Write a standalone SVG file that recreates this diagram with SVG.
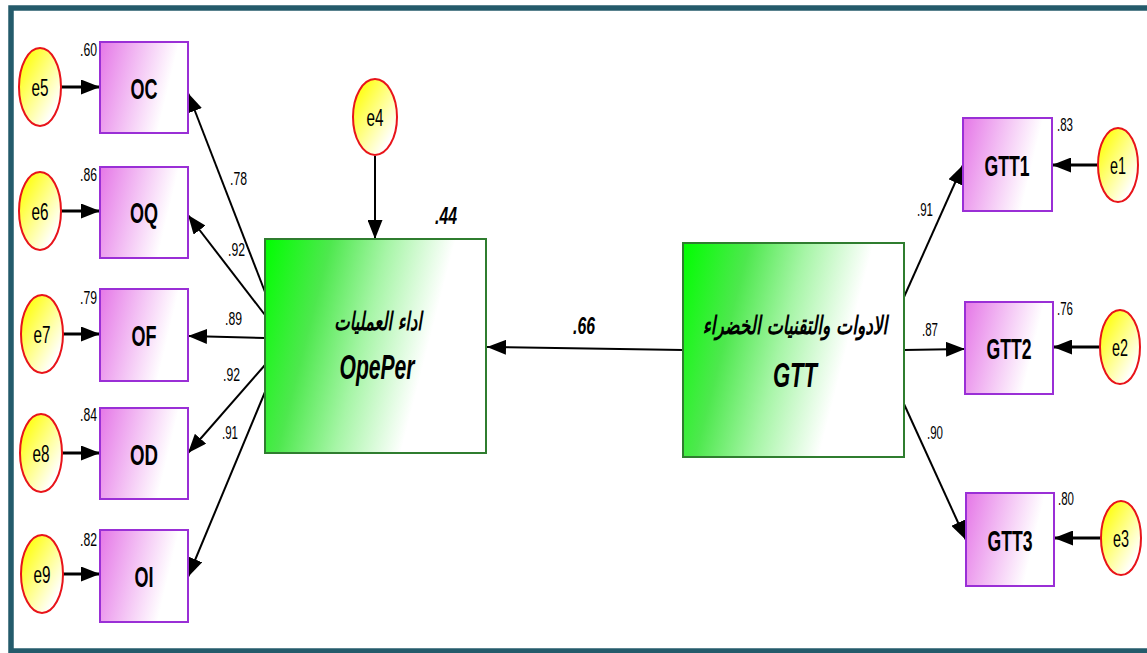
<svg xmlns="http://www.w3.org/2000/svg" width="1147" height="653" viewBox="0 0 1147 653">
<style>
.frame{fill:#fff;stroke:#245b6b;stroke-width:5.5}
.obs{fill:url(#gPurple);stroke:#9a2fd6;stroke-width:2}
.err{fill:url(#gYellow);stroke:#e8141a;stroke-width:2}
.lat{stroke:#2f7d2f;stroke-width:2}
.obsT{font-family:"Liberation Sans",Arial,sans-serif;font-weight:bold;font-size:30px;text-anchor:middle;fill:#000}
.errT{font-family:"Liberation Sans",Arial,sans-serif;font-size:24px;text-anchor:middle;fill:#000}
.num{font-family:"Liberation Sans",Arial,sans-serif;font-size:18px;fill:#000}
.bnum{font-family:"Liberation Sans",Arial,sans-serif;font-size:24px;font-weight:bold;font-style:italic;fill:#000}
.latT{font-family:"Liberation Sans",Arial,sans-serif;font-size:35px;font-weight:bold;font-style:italic;text-anchor:middle;fill:#000}
.arT{font-family:"DejaVu Sans","Noto Sans",sans-serif;font-size:25px;font-weight:bold;font-style:italic;text-anchor:middle;fill:#000}
.path{stroke:#000;stroke-width:2;fill:none;marker-end:url(#ah)}
.earr{stroke:#000;stroke-width:3;fill:none;marker-end:url(#ah)}
</style>
<defs>
<linearGradient id="gPurple" x1="0" y1="0" x2="1" y2="0.25">
<stop offset="0" stop-color="#e577e7"/>
<stop offset="0.85" stop-color="#ffffff"/>
</linearGradient>
<linearGradient id="gYellow" x1="0.1" y1="0.1" x2="0.9" y2="0.9">
<stop offset="0.1" stop-color="#ffff22"/>
<stop offset="0.9" stop-color="#ffffff"/>
</linearGradient>
<linearGradient id="gGreen1" gradientUnits="userSpaceOnUse" x1="265" y1="239" x2="444" y2="285">
<stop offset="0" stop-color="#00ff00"/>
<stop offset="0.35" stop-color="#4ee84e"/>
<stop offset="0.65" stop-color="#a6f5a6"/>
<stop offset="1" stop-color="#ffffff"/>
</linearGradient>
<linearGradient id="gGreen2" gradientUnits="userSpaceOnUse" x1="683" y1="243" x2="862" y2="289">
<stop offset="0" stop-color="#00ff00"/>
<stop offset="0.35" stop-color="#4ee84e"/>
<stop offset="0.65" stop-color="#a6f5a6"/>
<stop offset="1" stop-color="#ffffff"/>
</linearGradient>
<marker id="ah" markerUnits="userSpaceOnUse" markerWidth="19" markerHeight="15" refX="19" refY="7.5" orient="auto">
<path d="M0,0 L19,7.5 L0,15 z" fill="#000"/>
</marker>
</defs>

<rect class="frame" x="11" y="8" width="1150" height="643"/>

<g id="connectors">
<path class="path" d="M265,292 L188,93"/>
<path class="path" d="M265,315 L188,215"/>
<path class="path" d="M265,338 L188,336"/>
<path class="path" d="M265,365 L188,453"/>
<path class="path" d="M265,392 L188,577"/>
<path class="path" d="M375,156 L375,239"/>
<path class="path" d="M683,350 L487,347"/>
<path class="path" d="M904,297 L963,165"/>
<path class="path" d="M904,350 L965,349"/>
<path class="path" d="M904,404 L966,540"/>
<path class="earr" d="M61,87 L100,87"/>
<path class="earr" d="M61,211 L100,211"/>
<path class="earr" d="M62,334 L100,334"/>
<path class="earr" d="M61,453 L100,453"/>
<path class="earr" d="M62,574 L100,574"/>
<path class="earr" d="M1098,165 L1052,165"/>
<path class="earr" d="M1100,347 L1053,347"/>
<path class="earr" d="M1101,538 L1054,538"/>
<text class="num" x="230" y="185" textLength="17" lengthAdjust="spacingAndGlyphs">.78</text>
<text class="num" x="228" y="256" textLength="17" lengthAdjust="spacingAndGlyphs">.92</text>
<text class="num" x="225" y="325" textLength="17" lengthAdjust="spacingAndGlyphs">.89</text>
<text class="num" x="223" y="381" textLength="17" lengthAdjust="spacingAndGlyphs">.92</text>
<text class="num" x="222" y="439" textLength="16" lengthAdjust="spacingAndGlyphs">.91</text>
<text class="num" x="917" y="216" textLength="16" lengthAdjust="spacingAndGlyphs">.91</text>
<text class="num" x="922" y="336" textLength="16" lengthAdjust="spacingAndGlyphs">.87</text>
<text class="num" x="927" y="439" textLength="16" lengthAdjust="spacingAndGlyphs">.90</text>
<text class="bnum" x="573" y="334" textLength="22" lengthAdjust="spacingAndGlyphs">.66</text>
</g>

<g id="OC"><rect class="obs" x="100" y="42" width="88" height="91"/><text class="obsT" x="144" y="99" textLength="27" lengthAdjust="spacingAndGlyphs">OC</text><text class="num" x="97" y="56" text-anchor="end" textLength="17" lengthAdjust="spacingAndGlyphs">.60</text></g>
<g id="OQ"><rect class="obs" x="100" y="167" width="88" height="91"/><text class="obsT" x="144" y="223" textLength="28" lengthAdjust="spacingAndGlyphs">OQ</text><text class="num" x="97" y="181" text-anchor="end" textLength="17" lengthAdjust="spacingAndGlyphs">.86</text></g>
<g id="OF"><rect class="obs" x="100" y="289" width="88" height="92"/><text class="obsT" x="144" y="346" textLength="25" lengthAdjust="spacingAndGlyphs">OF</text><text class="num" x="97" y="304" text-anchor="end" textLength="17" lengthAdjust="spacingAndGlyphs">.79</text></g>
<g id="OD"><rect class="obs" x="100" y="408" width="88" height="91"/><text class="obsT" x="144" y="465" textLength="28" lengthAdjust="spacingAndGlyphs">OD</text><text class="num" x="97" y="421" text-anchor="end" textLength="17" lengthAdjust="spacingAndGlyphs">.84</text></g>
<g id="OI"><rect class="obs" x="100" y="530" width="88" height="92"/><text class="obsT" x="144" y="587" textLength="19" lengthAdjust="spacingAndGlyphs">OI</text><text class="num" x="97" y="546" text-anchor="end" textLength="17" lengthAdjust="spacingAndGlyphs">.82</text></g>

<g id="e5"><ellipse class="err" cx="40" cy="87" rx="21" ry="39"/><text class="errT" x="40" y="96" textLength="17" lengthAdjust="spacingAndGlyphs">e5</text></g>
<g id="e6"><ellipse class="err" cx="40" cy="211" rx="21" ry="39"/><text class="errT" x="40" y="220" textLength="17" lengthAdjust="spacingAndGlyphs">e6</text></g>
<g id="e7"><ellipse class="err" cx="42" cy="334" rx="21" ry="39"/><text class="errT" x="42" y="343" textLength="17" lengthAdjust="spacingAndGlyphs">e7</text></g>
<g id="e8"><ellipse class="err" cx="41" cy="453" rx="21" ry="39"/><text class="errT" x="41" y="462" textLength="17" lengthAdjust="spacingAndGlyphs">e8</text></g>
<g id="e9"><ellipse class="err" cx="42" cy="574" rx="21" ry="39"/><text class="errT" x="42" y="583" textLength="17" lengthAdjust="spacingAndGlyphs">e9</text></g>

<g id="e4"><ellipse class="err" cx="375" cy="117" rx="22" ry="38"/><text class="errT" x="375" y="126" textLength="17" lengthAdjust="spacingAndGlyphs">e4</text></g>

<g id="OpePer">
<rect class="lat" x="265" y="239" width="221" height="214" fill="url(#gGreen1)"/>
<text class="arT" transform="translate(378,330) scale(0.655,1)" x="0" y="0">اداء العمليات</text>
<text class="latT" x="377" y="379" textLength="75" lengthAdjust="spacingAndGlyphs">OpePer</text>
<text class="bnum" x="435" y="224" textLength="22" lengthAdjust="spacingAndGlyphs">.44</text>
</g>

<g id="GTT">
<rect class="lat" x="683" y="243" width="221" height="214" fill="url(#gGreen2)"/>
<text class="arT" transform="translate(795,334) scale(0.683,1)" x="0" y="0">الادوات والتقنيات الخضراء</text>
<text class="latT" x="795" y="387" textLength="44" lengthAdjust="spacingAndGlyphs">GTT</text>
</g>

<g id="GTT1"><rect class="obs" x="963" y="118" width="89" height="93"/><text class="obsT" x="1007" y="176" textLength="45" lengthAdjust="spacingAndGlyphs">GTT1</text><text class="num" x="1057" y="131" textLength="16" lengthAdjust="spacingAndGlyphs">.83</text></g>
<g id="GTT2"><rect class="obs" x="965" y="302" width="88" height="92"/><text class="obsT" x="1009" y="359" textLength="45" lengthAdjust="spacingAndGlyphs">GTT2</text><text class="num" x="1057" y="315" textLength="16" lengthAdjust="spacingAndGlyphs">.76</text></g>
<g id="GTT3"><rect class="obs" x="966" y="493" width="88" height="93"/><text class="obsT" x="1010" y="551" textLength="45" lengthAdjust="spacingAndGlyphs">GTT3</text><text class="num" x="1058" y="505" textLength="16" lengthAdjust="spacingAndGlyphs">.80</text></g>

<g id="e1"><ellipse class="err" cx="1118" cy="165" rx="20" ry="37"/><text class="errT" x="1118" y="174" textLength="16" lengthAdjust="spacingAndGlyphs">e1</text></g>
<g id="e2"><ellipse class="err" cx="1120" cy="347" rx="20" ry="37"/><text class="errT" x="1120" y="356" textLength="16" lengthAdjust="spacingAndGlyphs">e2</text></g>
<g id="e3"><ellipse class="err" cx="1121" cy="538" rx="20" ry="37"/><text class="errT" x="1121" y="547" textLength="16" lengthAdjust="spacingAndGlyphs">e3</text></g>
</svg>
